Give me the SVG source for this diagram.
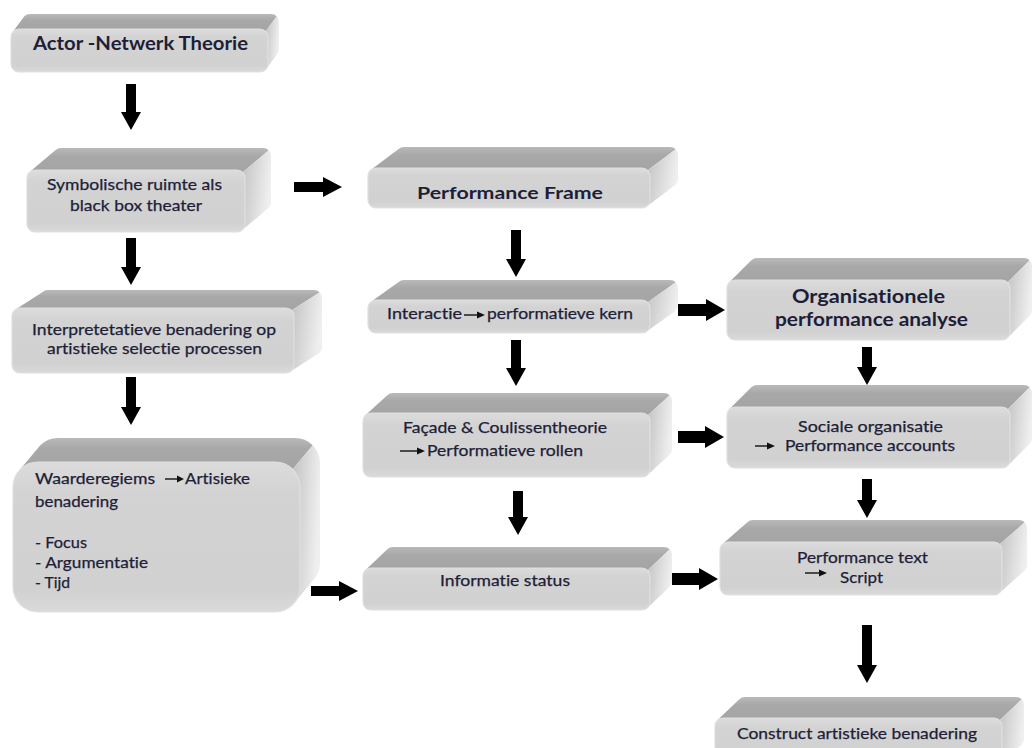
<svg xmlns="http://www.w3.org/2000/svg" width="1032" height="748" viewBox="0 0 1032 748">
  <defs>
    <linearGradient id="gTop" x1="0" y1="0" x2="0" y2="1">
      <stop offset="0" stop-color="#b9b9b9"/>
      <stop offset="0.35" stop-color="#a8a8a8"/>
      <stop offset="1" stop-color="#a4a4a4"/>
    </linearGradient>
    <linearGradient id="gSide" x1="0" y1="0" x2="1" y2="0.3">
      <stop offset="0" stop-color="#c2c2c2"/>
      <stop offset="1" stop-color="#efefef"/>
    </linearGradient>
    <linearGradient id="gFront" x1="0" y1="0" x2="0" y2="1">
      <stop offset="0" stop-color="#dcdcdc"/>
      <stop offset="0.2" stop-color="#d3d3d3"/>
      <stop offset="0.85" stop-color="#d1d1d1"/>
      <stop offset="1" stop-color="#dadada"/>
    </linearGradient>
    <style>
      .top { fill: url(#gTop); }
      .side { fill: url(#gSide); }
      .front { fill: url(#gFront); stroke: #e0e0e0; stroke-width: 1.2; }
      .t { font-family: Lato, "Open Sans", "Liberation Sans", sans-serif; font-size: 15px; fill: #1e1e38; font-variant-ligatures: none; font-feature-settings: "liga" 0, "clig" 0; stroke: #1e1e38; stroke-width: 0.25; }
      .tb { font-family: Lato, "Open Sans", "Liberation Sans", sans-serif; font-weight: bold; fill: #1e1e38; font-variant-ligatures: none; font-feature-settings: "liga" 0, "clig" 0; }
      .arrow { fill: #000; }
      .mini { stroke: #111; stroke-width: 1.4; fill: none; }
      .minihead { fill: #111; }
    </style>
  </defs>

  <rect width="1032" height="748" fill="#ffffff"/>

  <!-- Boxes -->
  <g id="n1">
    <g transform="translate(11,29)">
      <path class="top" d="M2.3,2.3 L13.3,-12.7 A8 8 0 0 1 19,-15 L260,-15 A8 8 0 0 1 265.7,-12.7 L254.7,2.3 Z"/>
      <path class="side" d="M254.7,2.3 L265.7,-12.7 A8 8 0 0 1 268,-7 L268,20 A8 8 0 0 1 265.7,25.7 L254.7,40.7 Z"/>
      <rect class="front" x="0" y="0" width="257" height="43" rx="8"/>
    </g>
    <text class="tb" x="33" y="50" font-size="19" textLength="215" lengthAdjust="spacingAndGlyphs">Actor -Netwerk Theorie</text>
  </g>

  <g id="n2">
    <g transform="translate(27,170)">
      <path class="top" d="M2.3,2.3 L28.3,-19.7 A8 8 0 0 1 34,-22 L236,-22 A8 8 0 0 1 241.7,-19.7 L215.7,2.3 Z"/>
      <path class="side" d="M215.7,2.3 L241.7,-19.7 A8 8 0 0 1 244,-14 L244,32 A8 8 0 0 1 241.7,37.7 L215.7,59.7 Z"/>
      <rect class="front" x="0" y="0" width="218" height="62" rx="8"/>
    </g>
    <text class="t" x="47" y="190" textLength="175" lengthAdjust="spacingAndGlyphs">Symbolische ruimte als</text>
    <text class="t" x="70" y="211" textLength="132" lengthAdjust="spacingAndGlyphs">black box theater</text>
  </g>

  <g id="n3">
    <g transform="translate(12,308)">
      <path class="top" d="M2.3,2.3 L30.3,-15.7 A8 8 0 0 1 36,-18 L302,-18 A8 8 0 0 1 307.7,-15.7 L279.7,2.3 Z"/>
      <path class="side" d="M279.7,2.3 L307.7,-15.7 A8 8 0 0 1 310,-10 L310,39 A8 8 0 0 1 307.7,44.7 L279.7,62.7 Z"/>
      <rect class="front" x="0" y="0" width="282" height="65" rx="8"/>
    </g>
    <text class="t" x="32" y="335" textLength="244" lengthAdjust="spacingAndGlyphs">Interpretetatieve benadering op</text>
    <text class="t" x="47" y="354" textLength="215" lengthAdjust="spacingAndGlyphs">artistieke selectie processen</text>
  </g>

  <g id="n4">
    <g transform="translate(13,462)">
      <path class="top" d="M7.3,7.3 L27.3,-16.7 A25 25 0 0 1 45,-24 L282,-24 A25 25 0 0 1 299.7,-16.7 L279.7,7.3 Z"/>
      <path class="side" d="M279.7,7.3 L299.7,-16.7 A25 25 0 0 1 307,1 L307,101 A25 25 0 0 1 299.7,118.7 L279.7,142.7 Z"/>
      <rect class="front" x="0" y="0" width="287" height="150" rx="25"/>
    </g>
    <text class="t" x="35" y="484" textLength="120" lengthAdjust="spacingAndGlyphs">Waarderegiems</text>
    <line class="mini" x1="165" y1="479" x2="178" y2="479"/>
    <polygon class="minihead" points="177,475.5 184,479 177,482.5"/>
    <text class="t" x="185" y="484" textLength="65" lengthAdjust="spacingAndGlyphs">Artisieke</text>
    <text class="t" x="35" y="507" textLength="83" lengthAdjust="spacingAndGlyphs">benadering</text>
    <text class="t" x="35" y="548" textLength="52" lengthAdjust="spacingAndGlyphs">- Focus</text>
    <text class="t" x="35" y="568" textLength="113" lengthAdjust="spacingAndGlyphs">- Argumentatie</text>
    <text class="t" x="35" y="588" textLength="35" lengthAdjust="spacingAndGlyphs">- Tijd</text>
  </g>

  <g id="n5">
    <g transform="translate(368,168)">
      <path class="top" d="M2.3,2.3 L30.3,-18.7 A8 8 0 0 1 36,-21 L302,-21 A8 8 0 0 1 307.7,-18.7 L279.7,2.3 Z"/>
      <path class="side" d="M279.7,2.3 L307.7,-18.7 A8 8 0 0 1 310,-13 L310,11 A8 8 0 0 1 307.7,16.7 L279.7,37.7 Z"/>
      <rect class="front" x="0" y="0" width="282" height="40" rx="8"/>
    </g>
    <text class="tb" x="417" y="199" font-size="17" textLength="186" lengthAdjust="spacingAndGlyphs">Performance Frame</text>
  </g>

  <g id="n6">
    <g transform="translate(368,300)">
      <path class="top" d="M2.3,2.3 L30.3,-17.7 A8 8 0 0 1 36,-20 L302,-20 A8 8 0 0 1 307.7,-17.7 L279.7,2.3 Z"/>
      <path class="side" d="M279.7,2.3 L307.7,-17.7 A8 8 0 0 1 310,-12 L310,5 A8 8 0 0 1 307.7,10.7 L279.7,30.7 Z"/>
      <rect class="front" x="0" y="0" width="282" height="33" rx="8"/>
    </g>
    <text class="t" x="387" y="319" textLength="75" lengthAdjust="spacingAndGlyphs">Interactie</text>
    <line class="mini" x1="464" y1="315" x2="478" y2="315"/>
    <polygon class="minihead" points="477,311.5 485,315 477,318.5"/>
    <text class="t" x="487" y="319" textLength="146" lengthAdjust="spacingAndGlyphs">performatieve kern</text>
  </g>

  <g id="n7">
    <g transform="translate(363,413)">
      <path class="top" d="M2.3,2.3 L24.3,-17.7 A8 8 0 0 1 30,-20 L301,-20 A8 8 0 0 1 306.7,-17.7 L284.7,2.3 Z"/>
      <path class="side" d="M284.7,2.3 L306.7,-17.7 A8 8 0 0 1 309,-12 L309,36 A8 8 0 0 1 306.7,41.7 L284.7,61.7 Z"/>
      <rect class="front" x="0" y="0" width="287" height="64" rx="8"/>
    </g>
    <text class="t" x="403" y="433" textLength="204" lengthAdjust="spacingAndGlyphs">Façade &amp; Coulissentheorie</text>
    <line class="mini" x1="400" y1="451" x2="418" y2="451"/>
    <polygon class="minihead" points="417,447.5 425,451 417,454.5"/>
    <text class="t" x="427" y="456" textLength="156" lengthAdjust="spacingAndGlyphs">Performatieve rollen</text>
  </g>

  <g id="n8">
    <g transform="translate(363,568)">
      <path class="top" d="M2.3,2.3 L24.3,-18.7 A8 8 0 0 1 30,-21 L301,-21 A8 8 0 0 1 306.7,-18.7 L284.7,2.3 Z"/>
      <path class="side" d="M284.7,2.3 L306.7,-18.7 A8 8 0 0 1 309,-13 L309,13 A8 8 0 0 1 306.7,18.7 L284.7,39.7 Z"/>
      <rect class="front" x="0" y="0" width="287" height="42" rx="8"/>
    </g>
    <text class="t" x="440" y="586" textLength="130" lengthAdjust="spacingAndGlyphs">Informatie status</text>
  </g>

  <g id="n9">
    <g transform="translate(727,280)">
      <path class="top" d="M2.3,2.3 L24.3,-19.7 A8 8 0 0 1 30,-22 L297,-22 A8 8 0 0 1 302.7,-19.7 L280.7,2.3 Z"/>
      <path class="side" d="M280.7,2.3 L302.7,-19.7 A8 8 0 0 1 305,-14 L305,30 A8 8 0 0 1 302.7,35.7 L280.7,57.7 Z"/>
      <rect class="front" x="0" y="0" width="283" height="60" rx="8"/>
    </g>
    <text class="tb" x="792" y="303" font-size="18" textLength="153" lengthAdjust="spacingAndGlyphs">Organisationele</text>
    <text class="tb" x="775" y="326" font-size="18" textLength="193" lengthAdjust="spacingAndGlyphs">performance analyse</text>
  </g>

  <g id="n10">
    <g transform="translate(727,407)">
      <path class="top" d="M2.3,2.3 L24.3,-19.7 A8 8 0 0 1 30,-22 L297,-22 A8 8 0 0 1 302.7,-19.7 L280.7,2.3 Z"/>
      <path class="side" d="M280.7,2.3 L302.7,-19.7 A8 8 0 0 1 305,-14 L305,31 A8 8 0 0 1 302.7,36.7 L280.7,58.7 Z"/>
      <rect class="front" x="0" y="0" width="283" height="61" rx="8"/>
    </g>
    <text class="t" x="798" y="432" textLength="145" lengthAdjust="spacingAndGlyphs">Sociale organisatie</text>
    <line class="mini" x1="755" y1="446" x2="768" y2="446"/>
    <polygon class="minihead" points="767,442.5 775,446 767,449.5"/>
    <text class="t" x="785" y="451" textLength="170" lengthAdjust="spacingAndGlyphs">Performance accounts</text>
  </g>

  <g id="n11">
    <g transform="translate(720,542)">
      <path class="top" d="M2.3,2.3 L27.3,-19.7 A8 8 0 0 1 33,-22 L299,-22 A8 8 0 0 1 304.7,-19.7 L279.7,2.3 Z"/>
      <path class="side" d="M279.7,2.3 L304.7,-19.7 A8 8 0 0 1 307,-14 L307,23 A8 8 0 0 1 304.7,28.7 L279.7,50.7 Z"/>
      <rect class="front" x="0" y="0" width="282" height="53" rx="8"/>
    </g>
    <text class="t" x="797" y="563" textLength="131" lengthAdjust="spacingAndGlyphs">Performance text</text>
    <line class="mini" x1="805" y1="573" x2="820" y2="573"/>
    <polygon class="minihead" points="819,569.5 827,573 819,576.5"/>
    <text class="t" x="840" y="583" textLength="43" lengthAdjust="spacingAndGlyphs">Script</text>
  </g>

  <g id="n12">
    <g transform="translate(715,718)">
      <path class="top" d="M2.3,2.3 L24.3,-18.7 A8 8 0 0 1 30,-21 L301,-21 A8 8 0 0 1 306.7,-18.7 L284.7,2.3 Z"/>
      <path class="side" d="M284.7,2.3 L306.7,-18.7 A8 8 0 0 1 309,-13 L309,21 A8 8 0 0 1 306.7,26.7 L284.7,47.7 Z"/>
      <rect class="front" x="0" y="0" width="287" height="50" rx="8"/>
    </g>
    <text class="t" x="737" y="739" textLength="240" lengthAdjust="spacingAndGlyphs">Construct artistieke benadering</text>
  </g>

  <!-- Block arrows between boxes -->
  <g id="connectors">
    <path class="arrow" d="M126,84 H136 V112 H141 L131,130 L121,112 H126 Z"/>
    <path class="arrow" d="M294,182 V192 H323 V197 L342,187 L323,177 V182 Z"/>
    <path class="arrow" d="M126,238 H136 V267 H141 L131,285 L121,267 H126 Z"/>
    <path class="arrow" d="M126,377 H136 V407 H141 L131,425 L121,407 H126 Z"/>
    <path class="arrow" d="M311,586 V596 H339 V601 L358,591 L339,581 V586 Z"/>
    <path class="arrow" d="M511,230 H521 V259 H526 L516,277 L506,259 H511 Z"/>
    <path class="arrow" d="M511,340 H521 V368 H526 L516,386 L506,368 H511 Z"/>
    <path class="arrow" d="M513,491 H523 V517 H528 L518,535 L508,517 H513 Z"/>
    <path class="arrow" d="M678,304 V316 H706 V321 L725,310 L706,299 V304 Z"/>
    <path class="arrow" d="M678,431 V443 H705 V448 L724,437 L705,426 V431 Z"/>
    <path class="arrow" d="M672,573 V585 H699 V590 L718,579 L699,568 V573 Z"/>
    <path class="arrow" d="M862,347 H872 V367 H877 L867,385 L857,367 H862 Z"/>
    <path class="arrow" d="M862,479 H872 V500 H877 L867,518 L857,500 H862 Z"/>
    <path class="arrow" d="M862,625 H872 V665 H877 L867,683 L857,665 H862 Z"/>
  </g>
</svg>
